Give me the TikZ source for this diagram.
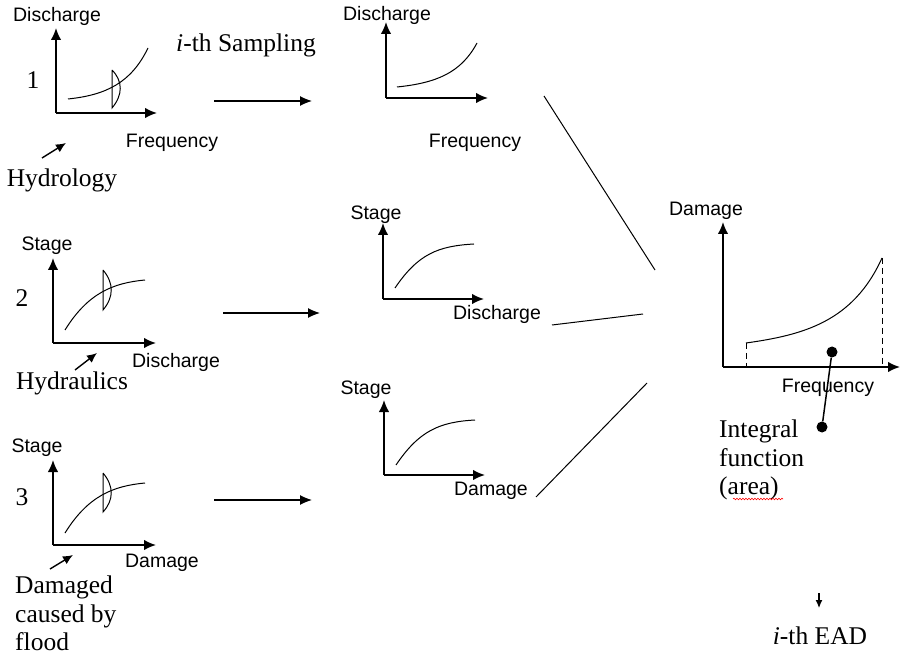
\documentclass[tikz,border=0pt]{standalone}
\usepackage{fontspec}
\setmainfont{Liberation Serif}
\setsansfont{Liberation Sans}
\usetikzlibrary{arrows.meta}
\usetikzlibrary{positioning}
\usetikzlibrary{decorations.pathmorphing}
\tikzset{axis/.style = {-{Latex[length=12pt, width=10.5pt]}, line width=1.5pt}}
\tikzset{crv/.style = {line width=1pt}}
\tikzset{lbl/.style = {font=\sffamily\fontsize{19.5}{22}\selectfont, inner sep=0}}
\tikzset{txt/.style = {font=\fontsize{25.5}{28.5}\selectfont, inner sep=0, align=left}}
\tikzset{ptr/.style = {-{Latex[length=10pt, width=9pt]}, line width=1.4pt}}
\tikzset{samp/.style = {-{Latex[length=12pt, width=10pt]}, line width=1.2pt}}
\tikzset{circ/.style = {fill, circle, inner sep = 0, minimum size = 11}}

\begin{document}
\begin{tikzpicture}[x=1pt, y=-1pt]
  \useasboundingbox (0, 0) rectangle (900, 660);

  % hydrology, input
  \begin{scope}[shift={(56, 113)}]
    \draw [axis] (0, 0) -- (0, -85);
    \draw [axis] (0, 0) -- (101, 0);
    \draw [crv] (12, -14) .. controls (50, -18) and (75, -30) .. (92, -65);
    \draw [crv] (56, -43) -- (56, -5) .. controls (67, -18) and (67, -32) .. (56, -43);
    \node [lbl] (q1) at (1, -97) {Discharge};
    \node [lbl] (f1) at (116, 30) {Frequency};
    \node [txt] (n1) at (-23, -33) {1};
  \end{scope}

  % hydrology, sampled
  \begin{scope}[shift={(386, 98)}]
    \draw [axis] (0, 0) -- (0, -76);
    \draw [axis] (0, 0) -- (102, 0);
    \draw [crv] (11, -11) .. controls (50, -15) and (75, -25) .. (91, -55);
    \node [lbl] (q1s) at (1, -83) {Discharge};
    \node [lbl] (f1s) at (89, 45) {Frequency};
  \end{scope}

  % hydraulics, input
  \begin{scope}[shift={(53, 343)}]
    \draw [axis] (0, 0) -- (0, -85);
    \draw [axis] (0, 0) -- (103, 0);
    \draw [crv] (12, -13) .. controls (35, -50) and (60, -60) .. (92, -63);
    \draw [crv] (50, -73) -- (50, -33) .. controls (61, -46) and (61, -60) .. (50, -73);
    \node [lbl] (s2) at (-6, -97) {Stage};
    \node [lbl] (q2) at (123, 19) {Discharge};
    \node [txt] (n2) at (-31, -45) {2};
  \end{scope}

  % hydraulics, sampled
  \begin{scope}[shift={(383, 299)}]
    \draw [axis] (0, 0) -- (0, -76);
    \draw [axis] (0, 0) -- (101, 0);
    \draw [crv] (12, -11) .. controls (35, -45) and (55, -53) .. (91, -55);
    \node [lbl] (s2s) at (-7, -84) {Stage};
    \node [lbl] (q2s) at (114, 15) {Discharge};
  \end{scope}

  % damage, input
  \begin{scope}[shift={(53, 545)}]
    \draw [axis] (0, 0) -- (0, -85);
    \draw [axis] (0, 0) -- (103, 0);
    \draw [crv] (12, -12) .. controls (35, -49) and (60, -59) .. (92, -62);
    \draw [crv] (50, -72) -- (50, -33) .. controls (61, -45) and (61, -59) .. (50, -72);
    \node [lbl] (s3) at (-16, -97) {Stage};
    \node [lbl] (d3) at (109, 18) {Damage};
    \node [txt] (n3) at (-31, -48) {3};
  \end{scope}

  % damage, sampled
  \begin{scope}[shift={(384, 475)}]
    \draw [axis] (0, 0) -- (0, -75);
    \draw [axis] (0, 0) -- (101, 0);
    \draw [crv] (12, -10) .. controls (35, -44) and (55, -53) .. (91, -55);
    \node [lbl] (s3s) at (-18, -85) {Stage};
    \node [lbl] (d3s) at (107, 16) {Damage};
  \end{scope}

  % damage-frequency
  \begin{scope}[shift={(723, 367)}]
    \draw [axis] (0, 0) -- (0, -145);
    \draw [axis] (0, 0) -- (177, 0);
    \draw [crv] (23, -24) .. controls (80, -32) and (130, -45) .. (159, -109);
    \draw [crv, dash pattern=on 6pt off 4pt] (23, -24) -- (23, 0);
    \draw [crv, dash pattern=on 6pt off 4pt] (159, -109) -- (159, 0);
    \node [lbl] (dmg) at (-17, -156) {Damage};
    \node [lbl] (frq) at (105, 21) {Frequency};
    \node [circ] (dotA) at (109, -15) {};
    \node [circ] (dotB) at (99, 60) {};
  \end{scope}
  \draw [line width=1.5pt] (dotA) -- (dotB);

  % texts
  \node [txt] (samp) at (246, 45) {\textit{i}-th Sampling};
  \node [txt] (hydro) at (62, 180) {Hydrology};
  \node [txt] (hydra) at (72, 383) {Hydraulics};
  \node [txt, anchor=north west] (flood) at (15, 576) {Damaged\\caused by\\flood};
  \node [txt, anchor=north west] (integ) at (719, 420) {Integral\\function\\(area)};
  \draw [red, line width=0.6pt, decorate,
         decoration={snake, amplitude=0.8pt, segment length=3pt}] (733, 499) -- (783, 499);
  \node [txt] (ead) at (820, 636) {\textit{i}-th EAD};

  % pointers
  \coordinate (p1a) at (42, 158);  \coordinate (p1b) at (66, 143);
  \coordinate (p2a) at (75, 370);  \coordinate (p2b) at (97, 353);
  \coordinate (p3a) at (50, 569);  \coordinate (p3b) at (73, 555);
  \draw [ptr] (p1a) -- (p1b);
  \draw [ptr] (p2a) -- (p2b);
  \draw [ptr] (p3a) -- (p3b);

  % sampling arrows
  \coordinate (a1) at (214, 101);  \coordinate (b1) at (312, 101);
  \coordinate (a2) at (223, 313);  \coordinate (b2) at (320, 313);
  \coordinate (a3) at (214, 500);  \coordinate (b3) at (312, 500);
  \foreach \i in {1, 2, 3}
    \draw [samp] (a\i) -- (b\i);

  % joining lines
  \coordinate (j1a) at (544, 96);   \coordinate (j1b) at (655, 270);
  \coordinate (j2a) at (552, 325);  \coordinate (j2b) at (643, 314);
  \coordinate (j3a) at (536, 497);  \coordinate (j3b) at (647, 383);
  \foreach \i in {1, 2, 3}
    \draw [line width=1pt] (j\i a) -- (j\i b);

  % result
  \coordinate (r1) at (819, 593);  \coordinate (r2) at (819, 608);
  \draw [-{Latex[length=8pt, width=7pt]}, line width=1.2pt] (r1) -- (r2);
\end{tikzpicture}
\end{document}
